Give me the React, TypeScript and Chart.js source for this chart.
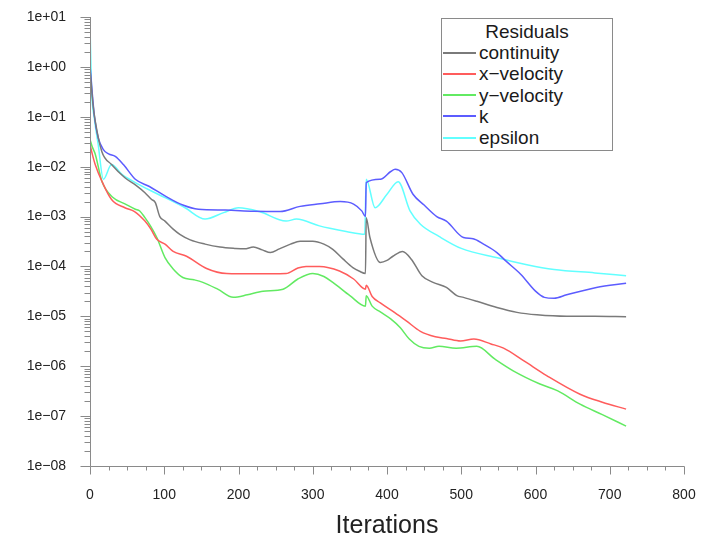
import { useEffect, useRef } from "react";
import { Chart, registerables } from "chart.js";

Chart.register(...registerables);

// ---- Series data (iteration, residual) ----
const continuityIter = [0, 4, 7, 16, 29, 47, 62, 74, 83, 88, 94, 101, 112, 121, 135, 155, 175, 195, 208, 220, 232, 243, 255, 270, 283, 300, 315, 327, 341, 354, 363, 371, 372, 377, 391, 400, 408, 421, 433, 447, 462, 480, 494, 503, 521, 548, 575, 602, 642, 680, 722];
const continuityRes = [0.9, 0.18, 0.083, 0.02, 0.011, 0.006, 0.0042, 0.003, 0.0022, 0.0019, 0.001, 0.00081, 0.00056, 0.00044, 0.00034, 0.00028, 0.000245, 0.00023, 0.000225, 0.000245, 0.000215, 0.00019, 0.000225, 0.00028, 0.00032, 0.00032, 0.00028, 0.00022, 0.00014, 0.000095, 0.00008, 0.000072, 0.00095, 0.00038, 0.00012, 0.000132, 0.00016, 0.0002, 0.000138, 0.000065, 0.000048, 0.000038, 0.000026, 0.000024, 0.00002, 0.000015, 0.000012, 0.0000107, 0.00001, 0.00001, 0.0000098];

const xVelIter = [0, 3, 7, 16, 29, 47, 60, 74, 82, 90, 101, 112, 130, 157, 184, 220, 264, 280, 291, 309, 336, 355, 371, 372, 380, 391, 410, 426, 445, 465, 480, 499, 517, 540, 557, 585, 615, 660, 690, 722];
const xVelRes = [0.028, 0.018, 0.011, 0.0051, 0.0022, 0.0015, 0.00126, 0.00081, 0.00056, 0.00035, 0.00028, 0.0002, 0.00016, 0.000091, 0.000072, 0.000071, 0.000072, 0.000093, 0.0001, 0.0001, 0.000081, 0.000056, 0.000035, 0.000042, 0.000025, 0.0000186, 0.000012, 0.0000081, 0.000005, 0.0000039, 0.0000036, 0.0000032, 0.0000035, 0.0000028, 0.0000023, 0.00000126, 6.5e-7, 2.75e-7, 1.9e-7, 1.38e-7];

const yVelIter = [0, 3, 7, 16, 31, 47, 61, 67, 74, 82, 90, 101, 112, 125, 140, 152, 172, 193, 212, 233, 260, 280, 300, 315, 327, 350, 371, 372, 380, 391, 405, 418, 430, 443, 457, 470, 493, 521, 545, 570, 606, 630, 660, 690, 722];
const yVelRes = [0.035, 0.025, 0.018, 0.0051, 0.0024, 0.0018, 0.0014, 0.00129, 0.00095, 0.00063, 0.00038, 0.00015, 0.000089, 0.00006, 0.000054, 0.000048, 0.000035, 0.000024, 0.000027, 0.000032, 0.000035, 0.000056, 0.000072, 0.000063, 0.000048, 0.000026, 0.000016, 0.000026, 0.000016, 0.0000123, 0.0000089, 0.0000059, 0.0000035, 0.0000025, 0.0000023, 0.0000025, 0.0000023, 0.0000025, 0.0000014, 8.1e-7, 4.4e-7, 3.2e-7, 1.74e-7, 1.07e-7, 6.3e-8];

const kIter = [0, 3, 6, 11, 18, 25, 34, 45, 61, 80, 101, 125, 146, 182, 220, 256, 283, 310, 337, 355, 366, 371, 372, 391, 405, 411, 420, 435, 450, 467, 480, 503, 516, 530, 548, 560, 580, 600, 612, 625, 642, 682, 722];
const kRes = [1.1, 0.3, 0.1, 0.038, 0.022, 0.018, 0.016, 0.011, 0.0056, 0.004, 0.0026, 0.0017, 0.0014, 0.00135, 0.00128, 0.00126, 0.0016, 0.0018, 0.002, 0.00178, 0.0013, 0.001, 0.0048, 0.0056, 0.008, 0.0089, 0.0076, 0.0028, 0.0017, 0.001, 0.00081, 0.00038, 0.00036, 0.00028, 0.00019, 0.000129, 0.00007, 0.000032, 0.000024, 0.000023, 0.000027, 0.000038, 0.000046];

const epsIter = [0, 2, 6, 11, 18, 29, 43, 61, 80, 101, 128, 155, 180, 200, 228, 264, 278, 309, 323, 345, 370, 372, 384, 400, 415, 431, 445, 470, 500, 550, 590, 625, 680, 722];
const epsRes = [7, 0.38, 0.09, 0.028, 0.0056, 0.011, 0.007, 0.0048, 0.0034, 0.0024, 0.0015, 0.00089, 0.0012, 0.0015, 0.00126, 0.00081, 0.00089, 0.00065, 0.00058, 0.0005, 0.00044, 0.0056, 0.0015, 0.0028, 0.005, 0.0013, 0.0007, 0.0004, 0.00023, 0.000148, 0.000107, 0.000087, 0.000074, 0.000065];

const seriesNames = ["continuity", "x\u2212velocity", "y\u2212velocity", "k", "epsilon"];
const seriesColors = ["#7a7a7a", "#ff5c5c", "#62ea62", "#5c5cff", "#62ffff"];
const seriesIters = [continuityIter, xVelIter, yVelIter, kIter, epsIter];
const seriesRes = [continuityRes, xVelRes, yVelRes, kRes, epsRes];

// ---- Axis ticks ----
const xMajorTicks = [0, 100, 200, 300, 400, 500, 600, 700, 800];
const xMinorStep = 25;
const yDecades = [-8, -7, -6, -5, -4, -3, -2, -1, 0, 1];
const yMinorMultipliers = [2, 3, 4, 5, 6, 7, 8, 9];
const legendTitle = "Residuals";
const xTitle = "Iterations";

const FONT = '"Liberation Sans", Arial, Helvetica, sans-serif';

function fmtExp(v: number): string {
  const e = Math.round(Math.log10(v));
  const sign = e < 0 ? "\u2212" : "+";
  return `1e${sign}${String(Math.abs(e)).padStart(2, "0")}`;
}

const axisPlugin = {
  id: "axisTicks",
  afterDraw(chart: any) {
    const { ctx, chartArea, scales } = chart;
    const x = scales.x;
    const y = scales.y;
    const ax = Math.round(chartArea.left) + 0.5;
    const ay = Math.round(chartArea.bottom) + 0.5;
    ctx.save();
    ctx.strokeStyle = "#8a8a8a";
    ctx.lineWidth = 1;
    ctx.beginPath();
    ctx.moveTo(ax, Math.round(chartArea.top));
    ctx.lineTo(ax, ay);
    ctx.lineTo(Math.round(chartArea.right) + 0.5, ay);
    for (const d of yDecades) {
      const major = Math.pow(10, d);
      const py = Math.round(y.getPixelForValue(major)) + 0.5;
      ctx.moveTo(ax - 10, py);
      ctx.lineTo(ax, py);
      if (d < yDecades[yDecades.length - 1]) {
        for (const m of yMinorMultipliers) {
          const pm = Math.round(y.getPixelForValue(m * major)) + 0.5;
          ctx.moveTo(ax - 6, pm);
          ctx.lineTo(ax, pm);
        }
      }
    }
    const xMax = xMajorTicks[xMajorTicks.length - 1];
    for (let v = xMajorTicks[0]; v <= xMax; v += xMinorStep) {
      const px = Math.round(x.getPixelForValue(v)) + 0.5;
      const len = xMajorTicks.includes(v) ? 8 : 4;
      ctx.moveTo(px, ay);
      ctx.lineTo(px, ay + len);
    }
    ctx.stroke();
    ctx.restore();
  },
};

export default function App() {
  const ref = useRef<HTMLCanvasElement>(null);

  useEffect(() => {
    if (!ref.current) return;
    const chart = new Chart(ref.current, {
      type: "line",
      data: {
        datasets: seriesNames.map((name, i) => ({
          label: name,
          data: seriesIters[i].map((it, j) => ({ x: it, y: seriesRes[i][j] })),
          borderColor: seriesColors[i],
          backgroundColor: seriesColors[i],
          borderWidth: 1.5,
          pointRadius: 0,
          fill: false,
          cubicInterpolationMode: "monotone" as const,
        })),
      },
      options: {
        animation: false,
        responsive: false,
        devicePixelRatio: 1,
        layout: { padding: { left: 8, right: 19, top: 17, bottom: 0 } },
        plugins: { legend: { display: false }, tooltip: { enabled: false } },
        scales: {
          x: {
            type: "linear",
            min: xMajorTicks[0],
            max: xMajorTicks[xMajorTicks.length - 1],
            grid: { display: false, drawTicks: false },
            border: { display: false },
            ticks: {
              stepSize: 100,
              padding: 21,
              color: "#222",
              font: { family: FONT, size: 14 },
              maxRotation: 0,
              autoSkip: false,
            },
            title: {
              display: true,
              text: xTitle,
              color: "#222",
              font: { family: FONT, size: 25 },
              padding: { top: 0, bottom: 0 },
            },
            afterFit: (s: any) => {
              s.height = 75;
              s.paddingLeft = 0;
              s.paddingRight = 0;
            },
          },
          y: {
            type: "logarithmic",
            min: Math.pow(10, yDecades[0]),
            max: Math.pow(10, yDecades[yDecades.length - 1]),
            grid: { display: false, drawTicks: false },
            border: { display: false },
            ticks: {
              padding: 24,
              color: "#222",
              autoSkip: false,
              font: { family: FONT, size: 14 },
              callback: (v: any) => {
                const val = Number(v);
                const e = Math.log10(val);
                return Math.abs(e - Math.round(e)) < 1e-6 ? fmtExp(val) : "";
              },
            },
            afterFit: (s: any) => {
              s.width = 82;
              s.paddingTop = 0;
              s.paddingBottom = 0;
            },
          },
        },
      },
      plugins: [axisPlugin],
    });
    return () => chart.destroy();
  }, []);

  return (
    <div style={{ position: "absolute", left: 0, top: 0, width: 703, height: 541, background: "#fff" }}>
      <canvas ref={ref} width={703} height={541} style={{ display: "block", width: 703, height: 541 }} />
      <div
        style={{
          position: "absolute",
          left: 441,
          top: 18,
          width: 170,
          height: 129,
          border: "1px solid #8a8a8a",
          background: "#fff",
          fontFamily: FONT,
          fontSize: 19,
          lineHeight: "21.2px",
          color: "#1a1a1a",
          paddingTop: 2,
          boxSizing: "content-box",
        }}
      >
        <div style={{ textAlign: "center", height: 21.2, whiteSpace: "nowrap" }}>{legendTitle}</div>
        {seriesNames.map((n, i) => (
          <div key={n} style={{ display: "flex", alignItems: "center", height: 21.2, whiteSpace: "nowrap" }}>
            <span
              style={{
                display: "inline-block",
                width: 33,
                height: 0,
                borderTop: `2px solid ${seriesColors[i]}`,
                marginLeft: 1,
                marginRight: 3,
              }}
            />
            <span>{n}</span>
          </div>
        ))}
      </div>
    </div>
  );
}
